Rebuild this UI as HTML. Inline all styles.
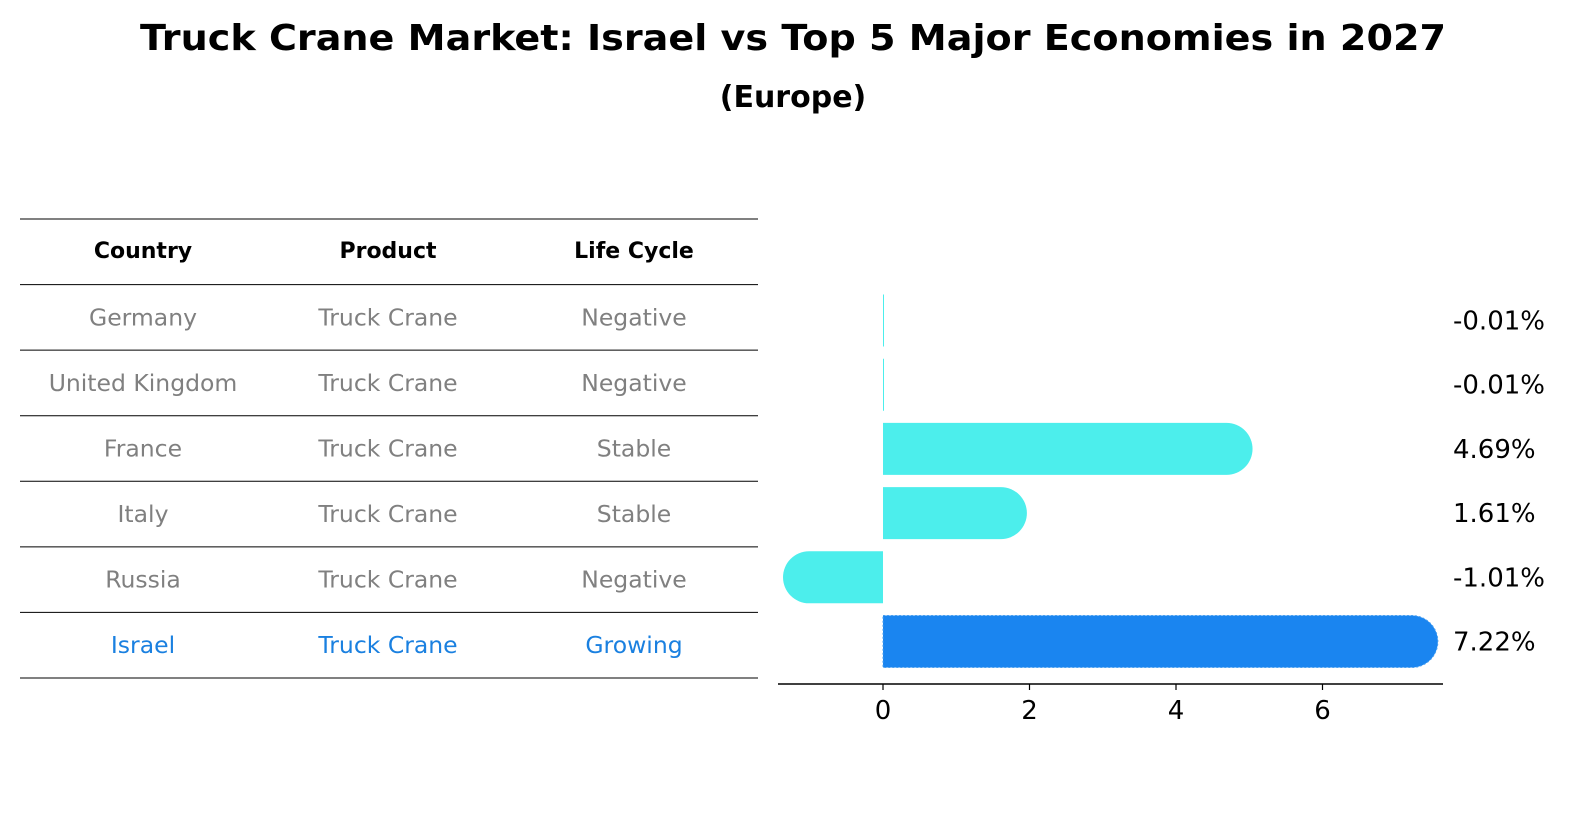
<!DOCTYPE html>
<html><head><meta charset="utf-8"><style>
body{margin:0;background:#fff;}
svg text{font-family:"DejaVu Sans","Liberation Sans",sans-serif;}
</style></head><body>
<svg id="chart" width="1596" height="823" xmlns="http://www.w3.org/2000/svg">
<rect width="1596" height="823" fill="#fff"/>
<text x="793" y="50" text-anchor="middle" font-size="36" font-weight="bold" textLength="1306" lengthAdjust="spacingAndGlyphs">Truck Crane Market: Israel vs Top 5 Major Economies in 2027</text>
<text x="793" y="107" text-anchor="middle" font-size="30" font-weight="bold">(Europe)</text>
<g id="table"></g>
<g id="bars"></g>
</svg>
<script>
const countries = ["Germany","United Kingdom","France","Italy","Russia","Israel"];
const products = ["Truck Crane","Truck Crane","Truck Crane","Truck Crane","Truck Crane","Truck Crane"];
const lifeCycles = ["Negative","Negative","Stable","Stable","Negative","Growing"];
const growthValues = [-0.01,-0.01,4.69,1.61,-1.01,7.22];
const valueLabels = ["-0.01%","-0.01%","4.69%","1.61%","-1.01%","7.22%"];
const xTicks = [0,2,4,6];

const NS="http://www.w3.org/2000/svg";
function mk(tag,attrs,parent,txt){const e=document.createElementNS(NS,tag);for(const k in attrs)e.setAttribute(k,attrs[k]);if(txt!==undefined)e.textContent=txt;parent.appendChild(e);return e;}
const tbl=document.getElementById('table');
const bars=document.getElementById('bars');
const rowY=i=>285+i*65.5;
const colX=[143,388,634];
for(let i=0;i<=7;i++){
  const y=219+i*65.57;
  const l=mk('line',{x1:20,x2:758,y1:y,y2:y,stroke:'#000','stroke-width':1},tbl);
  
  
}
const headers=["Country","Product","Life Cycle"];
headers.forEach((h,j)=>{
  const t=mk('text',{x:colX[j],y:258,'text-anchor':'middle','font-size':22,'font-weight':'bold'},tbl,h);
  
  
});
countries.forEach((c,i)=>{
  const y=rowY(i)+32.7+8;
  const col=c==="Israel"?'#1a80e0':'#808080';
  [c,products[i],lifeCycles[i]].forEach((v,j)=>{
    const t=mk('text',{x:colX[j],y:y,'text-anchor':'middle','font-size':23.5,fill:col},tbl,v);
    
    
  });
});
const x0=883, ppu=73.25;
const xs=v=>x0+v*ppu;
const barH=52, r=26;
growthValues.forEach((v,i)=>{
  const cy=320.5+i*64.2;
  const top=cy-barH/2;
  const isIsrael=countries[i]==="Israel";
  const fill=isIsrael?'#1a85f0':'#4ceeec';
  const xe=xs(v);
  let d;
  if(Math.abs(v)<0.05){
    d=`M${x0} ${top}h1v${barH}h-1z`;
  } else if(v>0){
    d=`M${x0} ${top}H${xe}A${r} ${r} 0 0 1 ${xe} ${top+barH}H${x0}Z`;
  } else {
    d=`M${x0} ${top}H${xe}A${r} ${r} 0 0 0 ${xe} ${top+barH}H${x0}Z`;
  }
  const p=mk('path',{d:d,fill:fill},bars);
  if(isIsrael){p.setAttribute('stroke','#4aa0f0');p.setAttribute('stroke-dasharray','2 2');p.setAttribute('stroke-width','1');}
  
  
  const t=mk('text',{x:1453,y:cy+9,'font-size':26},bars,valueLabels[i]);
  
  
});
const ax=mk('line',{x1:778,x2:1443,y1:684,y2:684,stroke:'#000','stroke-width':1.5},bars);


xTicks.forEach(v=>{
  const tk=mk('line',{x1:xs(v),x2:xs(v),y1:684,y2:690,stroke:'#000','stroke-width':1.2},bars);
  
  
  const t=mk('text',{x:xs(v),y:719,'text-anchor':'middle','font-size':26},bars,String(v));
  
  
});
</script>
</body></html>
